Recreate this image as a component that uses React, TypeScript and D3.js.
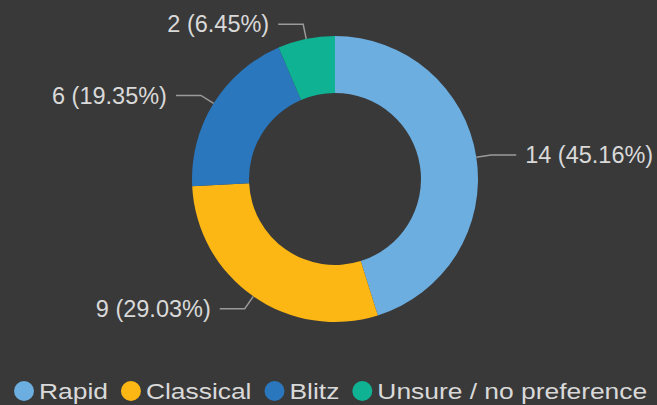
import React, { useEffect, useRef } from "react";
import * as d3 from "d3";

const categories = ["Rapid", "Classical", "Blitz", "Unsure / no preference"];
const counts = [14, 9, 6, 2];
const colors = ["#6caee0", "#fdb714", "#2a77bd", "#0fb393"];

const W = 657;
const H = 405;

export default function App() {
  const ref = useRef<SVGSVGElement>(null);

  useEffect(() => {
    document.body.style.margin = "0";
    const svg = d3.select(ref.current);
    svg.selectAll("*").remove();

    svg.append("rect").attr("width", W).attr("height", H).attr("fill", "#393939");

    const cx = 335, cy = 179;
    const outer = 143, inner = 86;
    const total = d3.sum(counts);

    const pie = d3.pie<number>().sort(null).value((d) => d);
    const arcs = pie(counts);
    const arc = d3.arc<d3.PieArcDatum<number>>().innerRadius(inner).outerRadius(outer);

    const g = svg.append("g").attr("transform", `translate(${cx},${cy})`);

    g.selectAll("path.slice")
      .data(arcs)
      .enter()
      .append("path")
      .attr("class", "slice")
      .attr("d", arc)
      .attr("fill", (d, i) => colors[i]);

    // leader lines + labels
    const r1 = outer + 15;
    arcs.forEach((a, i) => {
      const mid = (a.startAngle + a.endAngle) / 2;
      const sx = Math.sin(mid), sy = -Math.cos(mid);
      const right = sx >= 0;
      const p0 = [outer * sx, outer * sy];
      const p1 = [r1 * sx, r1 * sy];
      const p2 = [p1[0] + (right ? 25 : -25), p1[1]];
      g.append("polyline")
        .attr("points", [p0, p1, p2].map((p) => p.join(",")).join(" "))
        .attr("fill", "none")
        .attr("stroke", "#9a9a9a")
        .attr("stroke-width", 1.5);
      const pct = ((counts[i] / total) * 100).toFixed(2);
      g.append("text")
        .attr("x", p2[0] + (right ? 9 : -9))
        .attr("y", p2[1])
        .attr("dy", "0.35em")
        .attr("text-anchor", right ? "start" : "end")
        .attr("fill", "#d9d9d9")
        .style("font-family", "Liberation Sans, Arial, sans-serif")
        .style("font-size", "23.5px")
        .text(`${counts[i]} (${pct}%)`);
    });

    // legend (text in the original is stretched horizontally)
    const stretch = 1.2;
    const legend = svg.append("g").attr("transform", "translate(0,391)");
    const items = legend
      .selectAll("g.item")
      .data(categories)
      .enter()
      .append("g")
      .attr("class", "item");
    items
      .append("circle")
      .attr("r", 10)
      .attr("cx", 10)
      .attr("fill", (d, i) => colors[i]);
    items
      .append("text")
      .attr("transform", `translate(25,0) scale(${stretch},1)`)
      .attr("dy", "0.35em")
      .attr("fill", "#d9d9d9")
      .style("font-family", "Liberation Sans, Arial, sans-serif")
      .style("font-size", "22px")
      .text((d) => d);

    let x = 14;
    items.each(function () {
      const node = this as SVGGElement;
      d3.select(node).attr("transform", `translate(${x},0)`);
      const tw = (node.querySelector("text") as SVGTextElement).getComputedTextLength() * stretch;
      x += 25 + tw + 13;
    });
  }, []);

  return <svg ref={ref} width={W} height={H} style={{ display: "block" }} />;
}
